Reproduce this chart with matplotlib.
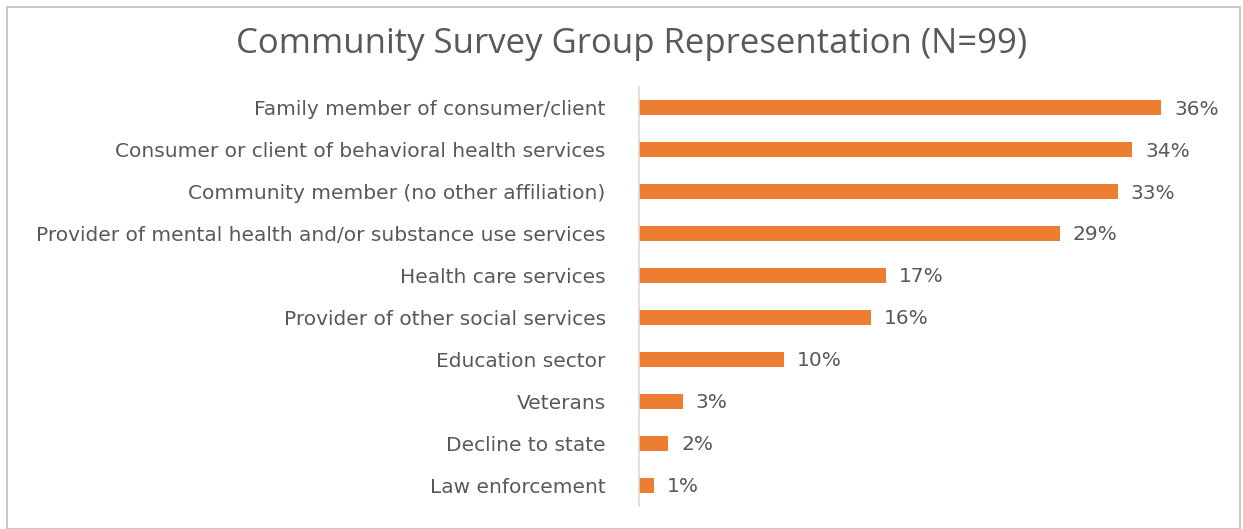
import matplotlib.pyplot as plt
from matplotlib.patches import Rectangle

groups = [
    "Family member of consumer/client",
    "Consumer or client of behavioral health services",
    "Community member (no other affiliation)",
    "Provider of mental health and/or substance use services",
    "Health care services",
    "Provider of other social services",
    "Education sector",
    "Veterans",
    "Decline to state",
    "Law enforcement",
]
shares = [36, 34, 33, 29, 17, 16, 10, 3, 2, 1]

TEXT = "#595959"
BAR = "#ED7D31"

plt.rcParams["font.family"] = "DejaVu Sans"

fig = plt.figure(figsize=(12.43, 5.29), dpi=100)
# light frame around the whole chart
fig.patches.append(Rectangle((7 / 1243, 0), 1233 / 1243, 522 / 529, transform=fig.transFigure,
                             fill=False, edgecolor="#BFBFBF", linewidth=1.2))

ax = fig.add_axes([639 / 1243, 23 / 529, 580 / 1243, 419 / 529])
pos = range(len(groups))
ax.barh(pos, shares, height=0.36, color=BAR)
ax.set_ylim(len(groups) - 0.5, -0.5)
ax.set_xlim(0, 40)

ax.set_yticks(list(pos))
ax.set_yticklabels(groups, fontsize=14.5, color=TEXT)
ax.tick_params(axis="y", length=0, pad=24)
ax.set_xticks([])
for s in ["top", "right", "bottom"]:
    ax.spines[s].set_visible(False)
ax.spines["left"].set_color("#D9D9D9")
ax.spines["left"].set_linewidth(1.2)

for i, v in enumerate(shares):
    ax.text(v + 0.9, i + 0.03, f"{v}%", va="center", ha="left",
            fontsize=14.5, color=TEXT)

fig.text(632 / 1243, 1 - 44 / 529, "Community Survey Group Representation (N=99)",
         ha="center", va="center", fontsize=25, color=TEXT, family="Open Sans")

fig.savefig("out.png", dpi=100)
